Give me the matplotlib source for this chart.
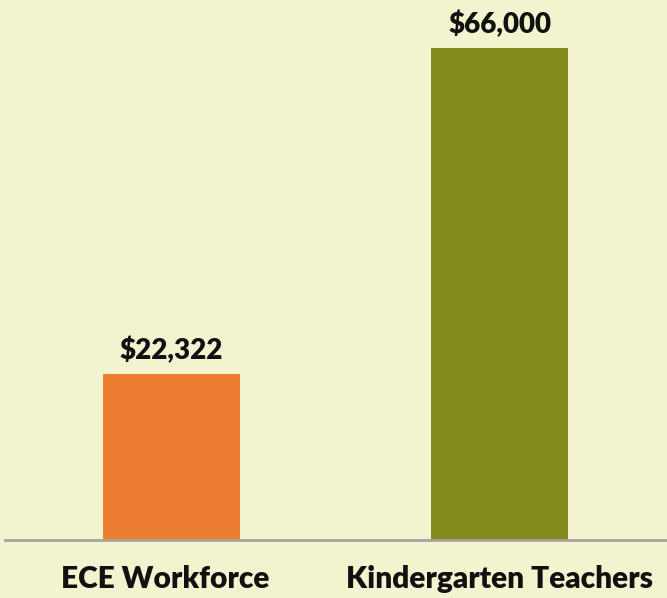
import matplotlib.pyplot as plt
import matplotlib.transforms as mtransforms

# ---- Data ----
categories = ['ECE Workforce', 'Kindergarten Teachers']
salaries = [22322, 66000]
value_labels = ['$22,322', '$66,000']

bg = '#F3F4CF'
bar_colors = ['#ED7D31', '#838B1E']

plt.rcParams['font.family'] = ['Lato', 'DejaVu Sans']

fig = plt.figure(figsize=(6.67, 5.98), dpi=100, facecolor=bg)
ax = fig.add_axes([5 / 667, 58 / 598, 1 - 5 / 667, 540 / 598])
ax.set_facecolor(bg)

x = range(len(categories))
bars = ax.bar(x, salaries, width=0.418, color=bar_colors)

for b, lab in zip(bars, value_labels):
    ax.annotate(lab, (b.get_x() + b.get_width() / 2, b.get_height()),
                xytext=(0, 7), textcoords='offset points',
                ha='center', va='bottom', fontsize=20, fontweight='heavy', color='#111111')

ax.set_xlim(-0.508, 1.511)
ax.set_ylim(0, 72436)

for s in ['top', 'right', 'left']:
    ax.spines[s].set_visible(False)
ax.spines['bottom'].set_color('#A5A5A0')
ax.spines['bottom'].set_linewidth(2)

ax.set_yticks([])
ax.set_xticks(list(x))
ax.set_xticklabels(categories, fontsize=21.5, fontweight='heavy', color='#111111')
ax.tick_params(axis='x', length=0, pad=18)

# first label sits a little left of its bar in the original
shift = mtransforms.ScaledTranslation(-6 / 100, 0, fig.dpi_scale_trans)
lbl = ax.get_xticklabels()[0]
lbl.set_transform(lbl.get_transform() + shift)

fig.savefig('out.png', dpi=100, facecolor=bg)
